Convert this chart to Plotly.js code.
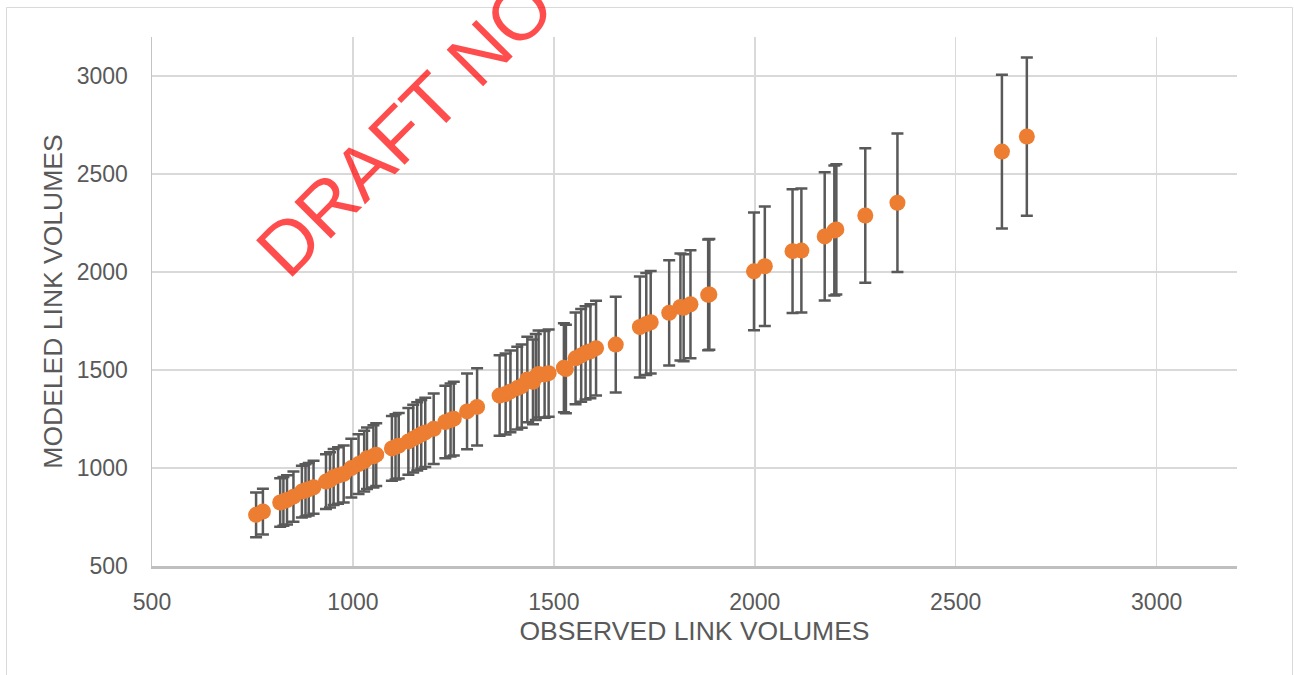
<!DOCTYPE html>
<html>
<head>
<meta charset="utf-8">
<script src="https://cdn.plot.ly/plotly-3.0.1.min.js"></script>
<style>
  html, body { margin: 0; padding: 0; background: #ffffff; }
  #chart { width: 1294px; height: 675px; }
</style>
</head>
<body>
<div id="chart"></div>
<script>
// ---- data ----
const observed = [
  759, 776, 819, 827, 836, 852, 873, 882, 890, 902,
  933, 943, 952, 963, 977, 996, 1014, 1028, 1035, 1051,
  1058, 1097, 1106, 1114, 1138, 1150, 1160, 1170, 1180, 1201,
  1230, 1243, 1251, 1284, 1309, 1365, 1380, 1392, 1409, 1420,
  1434, 1448, 1455, 1462, 1477, 1487, 1525, 1530, 1554, 1568,
  1579, 1591, 1605, 1654, 1714, 1730, 1741, 1787, 1815, 1823,
  1840, 1884, 1887, 1998, 2025, 2094, 2116, 2174, 2198, 2203,
  2275, 2355, 2615, 2677
];
const modeled = [
  761, 778, 824, 830, 837, 854, 880, 886, 892, 902,
  931, 940, 954, 962, 970, 1000, 1020, 1035, 1050, 1060,
  1068, 1100, 1108, 1114, 1136, 1150, 1161, 1172, 1182, 1200,
  1235, 1245, 1252, 1289, 1312, 1370, 1378, 1391, 1408, 1418,
  1452, 1440, 1465, 1480, 1478, 1484, 1512, 1505, 1560, 1575,
  1588, 1596, 1612, 1630, 1720, 1735, 1744, 1792, 1822, 1818,
  1836, 1884, 1886, 2004, 2030, 2107, 2110, 2182, 2212, 2218,
  2289, 2354, 2615, 2692
];
const errorPercent = 15;
const xTickVals = [500, 1000, 1500, 2000, 2500, 3000];
const yTickVals = [500, 1000, 1500, 2000, 2500, 3000];
const xTitle = 'OBSERVED LINK VOLUMES';
const yTitle = 'MODELED LINK VOLUMES';
const watermark = 'DRAFT NOT FOR DISTRIBUTION';

const FONT = 'Liberation Sans, Arial, sans-serif';
const TXT = '#595959';

const trace = {
  type: 'scatter',
  mode: 'markers',
  x: observed,
  y: modeled,
  marker: { color: '#ED7D31', size: 16, line: { width: 0 } },
  error_y: {
    type: 'percent',
    value: errorPercent,
    symmetric: true,
    color: '#595959',
    thickness: 2.5,
    width: 6
  },
  hoverinfo: 'x+y'
};

const layout = {
  width: 1294,
  height: 675,
  margin: { l: 152, r: 57, t: 37, b: 109, pad: 0 },
  paper_bgcolor: '#ffffff',
  plot_bgcolor: '#ffffff',
  showlegend: false,
  font: { family: FONT, color: TXT },
  xaxis: {
    range: [500, 3200],
    tickvals: xTickVals,
    ticktext: xTickVals.map(String),
    ticks: '',
    ticklabelstandoff: 14,
    tickfont: { family: FONT, size: 23, color: TXT },
    showgrid: true,
    gridcolor: '#d9d9d9',
    gridwidth: 1.5,
    zeroline: false,
    showline: true,
    linecolor: '#bfbfbf',
    linewidth: 2.5,
    automargin: false,
    title: { text: xTitle, font: { family: FONT, size: 26.5, color: TXT }, standoff: 8 }
  },
  yaxis: {
    range: [500, 3200],
    tickvals: yTickVals,
    ticktext: yTickVals.map(String),
    ticks: '',
    ticklabelstandoff: 18,
    tickfont: { family: FONT, size: 23, color: TXT },
    showgrid: true,
    gridcolor: '#d9d9d9',
    gridwidth: 1.5,
    zeroline: false,
    showline: true,
    linecolor: '#c4c4c4',
    linewidth: 1.5,
    automargin: false,
    title: { text: yTitle, font: { family: FONT, size: 26.5, color: TXT }, standoff: 6 }
  },
  shapes: [{
    type: 'rect', xref: 'paper', yref: 'paper',
    x0: -0.1341, x1: 1.0512, y0: -0.2155, y1: 1.0558,
    line: { color: '#d9d9d9', width: 1 },
    fillcolor: 'rgba(0,0,0,0)',
    layer: 'below'
  }],
  annotations: [{
    text: watermark,
    xref: 'paper', yref: 'paper',
    x: 0.4854,
    y: 1.345,
    xanchor: 'center', yanchor: 'middle',
    textangle: -45,
    showarrow: false,
    font: { family: FONT, size: 75, color: 'rgba(255,0,0,0.7)' }
  }]
};

Plotly.newPlot('chart', [trace], layout, { staticPlot: true, displayModeBar: false });
</script>
</body>
</html>
